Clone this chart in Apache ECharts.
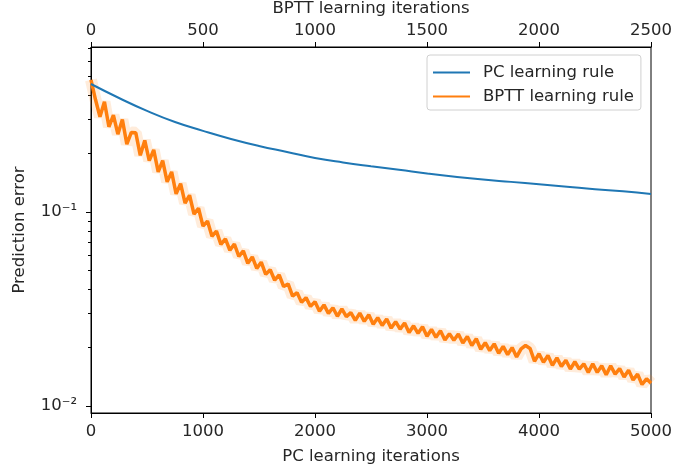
<!DOCTYPE html>
<html>
<head>
<meta charset="utf-8">
<script src="https://cdn.jsdelivr.net/npm/echarts@6/dist/echarts.min.js"></script>
<style>
html, body { margin: 0; padding: 0; background: #fff; }
#chart { width: 673px; height: 474px; }
</style>
</head>
<body>
<div id="chart"></div>
<script>
// PC learning rule, read every 250 PC iterations
const pcIters = [0, 250, 500, 750, 1000, 1250, 1500, 1750, 2000, 2250, 2500,
  2750, 3000, 3250, 3500, 3750, 4000, 4250, 4500, 4750, 5000];
const pcError = [0.457, 0.387, 0.332, 0.291, 0.262, 0.238, 0.219, 0.204, 0.190, 0.180, 0.172,
  0.165, 0.158, 0.152, 0.147, 0.143, 0.139, 0.135, 0.131, 0.128, 0.124];

// BPTT learning rule, one value every 20 BPTT iterations (0..2500)
const bpttStep = 20;
const bpttError = [
  0.48, 0.38, 0.31, 0.37, 0.275, 0.316, 0.252, 0.30, 0.224, 0.257,
  0.256, 0.196, 0.234, 0.184, 0.209, 0.161, 0.184, 0.143, 0.161, 0.124,
  0.140, 0.111, 0.122, 0.0975, 0.1045, 0.0846, 0.0898, 0.075, 0.0797, 0.0681,
  0.0727, 0.0635, 0.0684, 0.0591, 0.063, 0.0544, 0.0587, 0.0512, 0.0551, 0.0477,
  0.0504, 0.0445, 0.0474, 0.0413, 0.0426, 0.0368, 0.0384, 0.0342, 0.0362, 0.0326,
  0.0345, 0.0308, 0.0332, 0.0300, 0.0321, 0.0290, 0.0317, 0.0289, 0.0303, 0.0276,
  0.0301, 0.0273, 0.0295, 0.0264, 0.0285, 0.0260, 0.0281, 0.0252, 0.0272, 0.0249,
  0.0268, 0.0239, 0.0259, 0.0237, 0.0256, 0.0229, 0.0248, 0.0226, 0.0244, 0.0219,
  0.0236, 0.0218, 0.0235, 0.0211, 0.0228, 0.0205, 0.0222, 0.0196, 0.0212, 0.0193,
  0.0209, 0.0187, 0.0203, 0.0184, 0.0200, 0.0179, 0.0197, 0.0205, 0.0198, 0.0170,
  0.0186, 0.0168, 0.0182, 0.0162, 0.0177, 0.0160, 0.0172, 0.0155, 0.0169, 0.0155,
  0.0165, 0.0149, 0.0165, 0.0149, 0.0161, 0.0145, 0.0161, 0.0146, 0.0156, 0.0141,
  0.0153, 0.0136, 0.0146, 0.0129, 0.0138, 0.0131
];

const majorTicks = [0.01, 0.1];
const minorTicks = [0.02, 0.03, 0.04, 0.05, 0.06, 0.07, 0.08, 0.09, 0.2, 0.3, 0.4, 0.5, 0.6, 0.7];
const yMin = 0.0092;
const yMax = 0.709;

const lg = Math.log10;
const font = 'DejaVu Sans';
const fs = 16.5;
const textColor = '#262626';

const pcData = pcIters.map((x, i) => [x, lg(pcError[i])]);
const bpttData = bpttError.map((v, i) => [i * bpttStep, lg(v)]);

const option = {
  animation: false,
  grid: {
    left: 91, right: 22, top: 47, bottom: 61, outerBoundsMode: 'none',
    show: true, borderColor: '#000', borderWidth: 1
  },
  legend: {
    data: ['PC learning rule', 'BPTT learning rule'],
    orient: 'vertical',
    left: 427,
    top: 55,
    icon: 'rect',
    itemWidth: 37,
    itemHeight: 2,
    itemGap: 7,
    padding: [9, 7, 5, 6],
    borderColor: '#d0d0d0',
    borderWidth: 1,
    borderRadius: 3,
    backgroundColor: 'rgba(255,255,255,0.8)',
    textStyle: { fontFamily: font, fontSize: fs, color: textColor, padding: [0, 0, 0, 8] }
  },
  xAxis: [
    {
      type: 'value', position: 'bottom', min: 0, max: 5000, interval: 1000,
      name: 'PC learning iterations', nameLocation: 'middle', nameGap: 35,
      nameTextStyle: { fontFamily: font, fontSize: fs, color: textColor },
      axisLine: { lineStyle: { color: '#000' } },
      axisTick: { length: 5, lineStyle: { color: '#000' } },
      axisLabel: { fontFamily: font, fontSize: fs, color: textColor, margin: 10, formatter: v => String(v) },
      splitLine: { show: false }
    },
    {
      type: 'value', position: 'top', min: 0, max: 2500, interval: 500,
      name: 'BPTT learning iterations', nameLocation: 'middle', nameGap: 29,
      nameTextStyle: { fontFamily: font, fontSize: fs, color: textColor },
      axisLine: { lineStyle: { color: '#000' } },
      axisTick: { length: 5, lineStyle: { color: '#000' } },
      axisLabel: { fontFamily: font, fontSize: fs, color: textColor, margin: 8, formatter: v => String(v) },
      splitLine: { show: false }
    }
  ],
  yAxis: [
    {
      type: 'value', min: lg(yMin), max: lg(yMax),
      name: 'Prediction error', nameLocation: 'middle', nameGap: 63,
      nameTextStyle: { fontFamily: font, fontSize: fs, color: textColor },
      axisLine: { show: true, lineStyle: { color: '#000' } },
      axisTick: { length: 5, lineStyle: { color: '#000' }, customValues: majorTicks.map(lg) },
      axisLabel: {
        fontFamily: font, fontSize: fs, color: textColor, margin: 14,
        customValues: majorTicks.map(lg),
        formatter: v => (Math.round(v) === -1 ? '10\u207B\u00B9' : '10\u207B\u00B2')
      },
      splitLine: { show: false }
    },
    {
      // minor ticks only
      type: 'value', min: lg(yMin), max: lg(yMax), position: 'left',
      axisLine: { show: false },
      axisTick: { show: true, length: 3, lineStyle: { color: '#000' }, customValues: minorTicks.map(lg) },
      axisLabel: { show: false },
      splitLine: { show: false }
    }
  ],
  series: [
    {
      name: 'PC learning rule', type: 'line', xAxisIndex: 0, yAxisIndex: 0,
      data: pcData, smooth: true, showSymbol: false,
      lineStyle: { color: '#1f77b4', width: 2 }, itemStyle: { color: '#1f77b4' }, z: 3
    },
    {
      name: 'BPTT band', type: 'line', xAxisIndex: 1, yAxisIndex: 0,
      data: bpttData, showSymbol: false,
      lineStyle: { color: 'rgba(255,127,14,0.15)', width: 12 }, z: 1
    },
    {
      name: 'BPTT learning rule', type: 'line', xAxisIndex: 1, yAxisIndex: 0,
      data: bpttData, showSymbol: false,
      lineStyle: { color: '#ff7f0e', width: 3.5 }, itemStyle: { color: '#ff7f0e' }, z: 2
    }
  ]
};

echarts.init(document.getElementById('chart')).setOption(option);
</script>
</body>
</html>
